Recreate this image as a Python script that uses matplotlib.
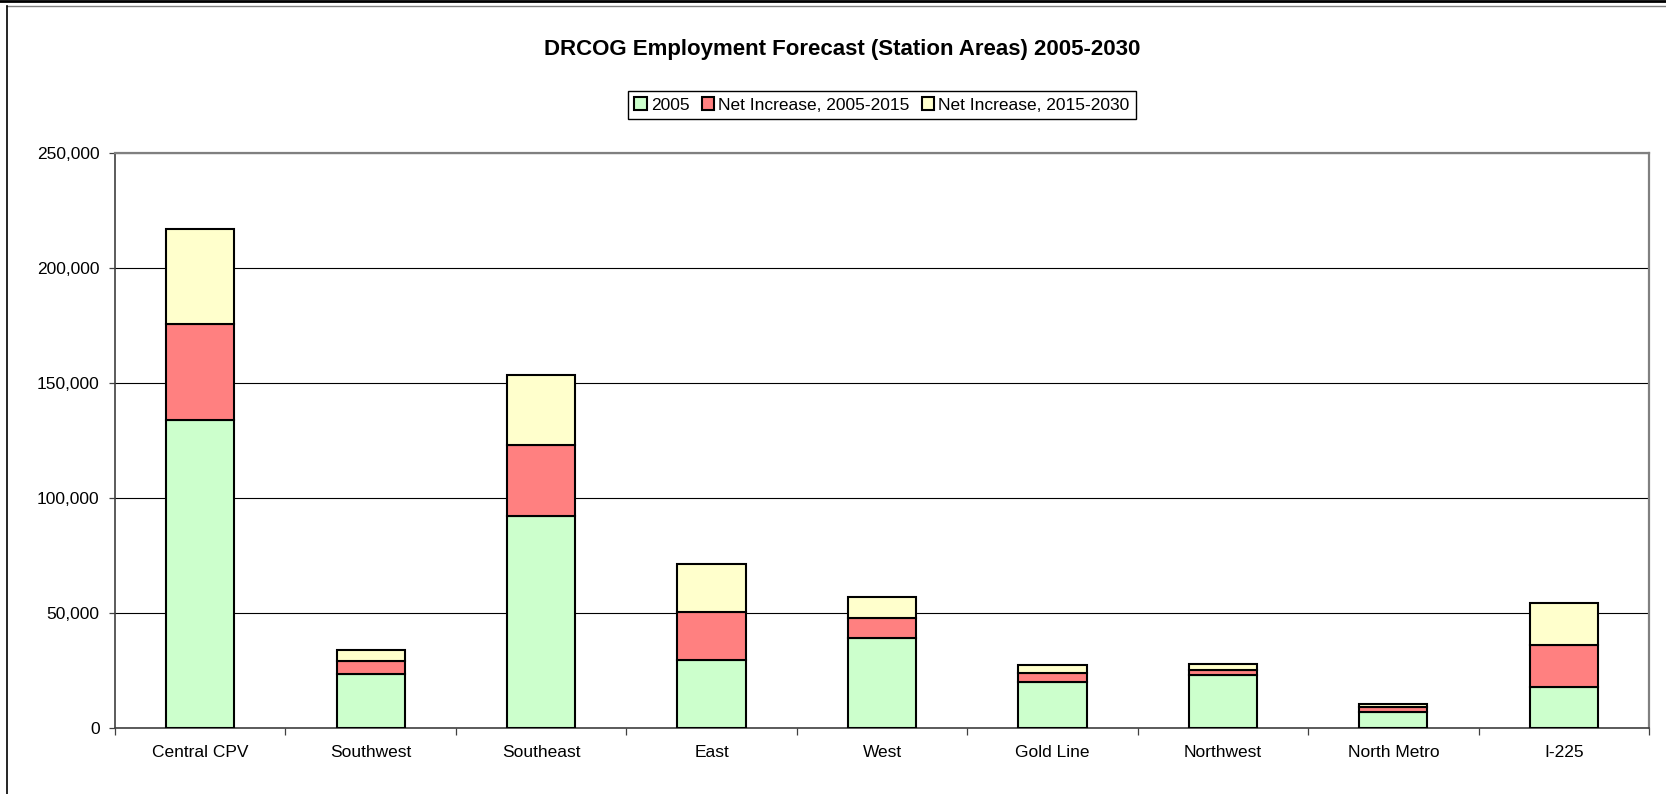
import numpy as np
import matplotlib
matplotlib.use('Agg')
import matplotlib.pyplot as plt
from matplotlib.ticker import FuncFormatter, MultipleLocator, FixedLocator
from matplotlib.lines import Line2D

plt.rcParams['font.family'] = ['Liberation Sans', 'DejaVu Sans']

# data
stations = ['Central CPV', 'Southwest', 'Southeast', 'East', 'West',
            'Gold Line', 'Northwest', 'North Metro', 'I-225']
emp_2005 = [134000, 23500, 92200, 29600, 39000, 20200, 23000, 7100, 17700]
inc_2005_2015 = [41500, 5500, 30800, 20700, 8900, 3500, 2300, 1900, 18500]
inc_2015_2030 = [41500, 5100, 30500, 20800, 8900, 3600, 2600, 1600, 18200]

series_names = ['2005', 'Net Increase, 2005-2015', 'Net Increase, 2015-2030']
colors = ['#CCFFCC', '#FF8080', '#FFFFCC']

W, H = 1666, 794
fig = plt.figure(figsize=(W / 100, H / 100), dpi=100)
ax = fig.add_axes([115 / W, (H - 728) / H, (1649 - 115) / W, (728 - 153) / H])

x = np.arange(len(stations))
bottom = np.zeros(len(stations))
handles = []
for vals, name, c in zip([emp_2005, inc_2005_2015, inc_2015_2030], series_names, colors):
    vals = np.array(vals, dtype=float)
    b = ax.bar(x, vals, 0.4, bottom=bottom, color=c, edgecolor='black',
               linewidth=1.5, label=name, zorder=3)
    handles.append(b)
    bottom += vals

ax.set_xlim(-0.5, len(stations) - 0.5)
ax.set_ylim(0, 250000)
ax.yaxis.set_major_locator(MultipleLocator(50000))
ax.yaxis.set_major_formatter(FuncFormatter(lambda v, p: f'{v:,.0f}'))
ax.grid(axis='y', color='black', linewidth=0.8, zorder=0)

ax.set_xticks(x)
ax.set_xticklabels(stations)
ax.xaxis.set_minor_locator(FixedLocator(np.arange(-0.5, len(stations), 1.0)))
ax.tick_params(axis='x', which='major', length=0, pad=12, labelsize=12.5)
ax.tick_params(axis='x', which='minor', length=5, width=0.9, color='#404040', direction='out')
ax.tick_params(axis='y', length=4, width=0.9, color='#404040', pad=7, labelsize=12.5)

for s in ['top', 'right']:
    ax.spines[s].set_color('#808080')
    ax.spines[s].set_linewidth(1.6)
for s in ['left', 'bottom']:
    ax.spines[s].set_color('#404040')
    ax.spines[s].set_linewidth(1.2)

fig.text(842 / W, 1 - 49 / H, 'DRCOG Employment Forecast (Station Areas) 2005-2030',
         ha='center', va='center', fontsize=16, fontweight='bold')

leg = fig.legend(handles=handles, labels=series_names, loc='center',
                 bbox_to_anchor=(882 / W, 1 - 105 / H), ncol=3, fontsize=12.5,
                 frameon=True, fancybox=False, edgecolor='black', framealpha=1,
                 handlelength=0.7, handleheight=0.7, handletextpad=0.25,
                 columnspacing=0.7, borderpad=0.35, borderaxespad=0)
leg.get_frame().set_linewidth(1.0)

# outer chart frame (clipped at right and bottom like the screenshot)
fig.add_artist(Line2D([0, 1], [1 - 1.2 / H, 1 - 1.2 / H], color='black', linewidth=2,
                      transform=fig.transFigure))
fig.add_artist(Line2D([7 / W, 1], [1 - 5.5 / H, 1 - 5.5 / H], color='#808080', linewidth=1,
                      transform=fig.transFigure))
fig.add_artist(Line2D([7 / W, 7 / W], [0, 1 - 5.5 / H], color='black', linewidth=1.2,
                      transform=fig.transFigure))

fig.savefig('out.png', dpi=100, facecolor='white')
